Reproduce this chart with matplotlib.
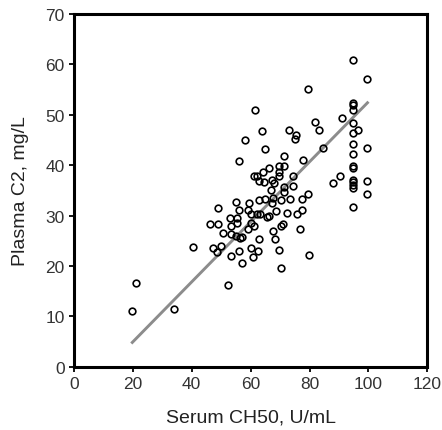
import numpy as np
import matplotlib.pyplot as plt

plt.rcParams['font.family'] = ['Liberation Sans', 'DejaVu Sans']

# values
ch50 = [19.6, 21.2, 34.0, 40.3, 46.2, 47.3, 49.0, 49.0, 48.7, 49.8,
        50.7, 53.0, 53.5, 53.5, 53.5, 52.4, 55.2, 55.4, 55.4, 55.2,
        56.1, 56.4, 55.9, 56.1, 57.0, 57.0, 58.1, 59.0, 59.5, 59.2,
        60.0, 60.0, 60.0, 60.9, 61.1, 61.1, 61.5, 62.0, 62.0, 62.4,
        62.9, 62.9, 62.9, 63.2, 64.0, 64.3, 64.6, 65.0, 64.9, 65.4,
        66.1, 66.3, 66.8, 67.1, 67.1, 67.7, 67.7, 68.0, 68.3, 68.6,
        69.8, 69.8, 69.8, 69.8, 70.2, 70.2, 70.3, 70.9, 71.3, 71.3,
        71.3, 71.3, 72.5, 73.0, 73.4, 74.5, 74.5, 75.1, 75.4, 75.6,
        76.6, 77.3, 77.5, 77.8, 79.6, 79.9, 79.4, 81.8, 83.2, 84.7,
        88.1, 90.5, 91.1, 94.9, 94.9, 94.9, 94.9, 94.9, 94.9, 94.9,
        94.9, 94.9, 94.9, 94.9, 94.9, 94.9, 94.9, 94.9, 96.6, 99.5,
        99.5, 99.5, 99.5]
c2 = [11.1, 16.6, 11.5, 23.7, 28.3, 23.5, 31.4, 28.3, 22.7, 24.0,
      26.5, 29.5, 28.0, 26.3, 21.9, 16.2, 32.6, 29.6, 28.5, 25.9,
      31.2, 25.5, 40.9, 23.0, 20.5, 25.8, 45.0, 27.3, 32.5, 31.2,
      30.3, 28.5, 23.5, 21.7, 28.0, 37.9, 51.0, 37.8, 30.3, 23.0,
      36.9, 25.3, 33.0, 30.3, 46.7, 38.6, 36.7, 43.3, 33.3, 29.8,
      39.4, 30.0, 35.0, 37.1, 32.5, 33.4, 26.9, 36.4, 25.3, 30.9,
      39.9, 38.6, 37.9, 23.2, 19.5, 33.1, 28.0, 28.3, 41.9, 39.9,
      35.7, 34.7, 30.6, 47.0, 33.3, 37.8, 35.8, 45.1, 46.0, 30.4,
      27.3, 33.3, 31.2, 41.1, 34.3, 22.2, 55.1, 48.5, 46.9, 43.4,
      36.4, 37.9, 49.4, 60.8, 52.3, 51.0, 48.4, 46.4, 44.2, 42.2,
      39.8, 39.5, 37.1, 36.6, 36.1, 35.5, 31.6, 52.0, 46.9, 57.1,
      43.4, 36.9, 34.3]

# regression line ends as drawn in the reference
fit_x = [19.5, 100.0]
fit_y = [4.6, 52.6]

fig = plt.figure(figsize=(4.42, 4.31), dpi=100)
ax = fig.add_axes([0.167, 0.147, 0.8, 0.818])

ax.plot(fit_x, fit_y, color='#8c8c8c', lw=2.1, zorder=2, solid_capstyle='butt')
ax.plot(ch50, c2, 'o', ms=4.8, mfc='none', mec='black', mew=1.2, zorder=3)

ax.set_xlim(0, 120)
ax.set_ylim(0, 70)
ax.set_xticks(np.arange(0, 121, 20))
ax.set_yticks(np.arange(0, 71, 10))

for s in ax.spines.values():
    s.set_linewidth(2.2)
ax.tick_params(direction='out', length=3.5, width=1.3, labelsize=12.5,
               labelcolor='#333333', pad=3)
ax.set_xlabel('Serum CH50, U/mL', fontsize=14, color='#222222', labelpad=13)
ax.set_ylabel('Plasma C2, mg/L', fontsize=14, color='#222222', labelpad=12)

fig.savefig('out.png', dpi=100)
